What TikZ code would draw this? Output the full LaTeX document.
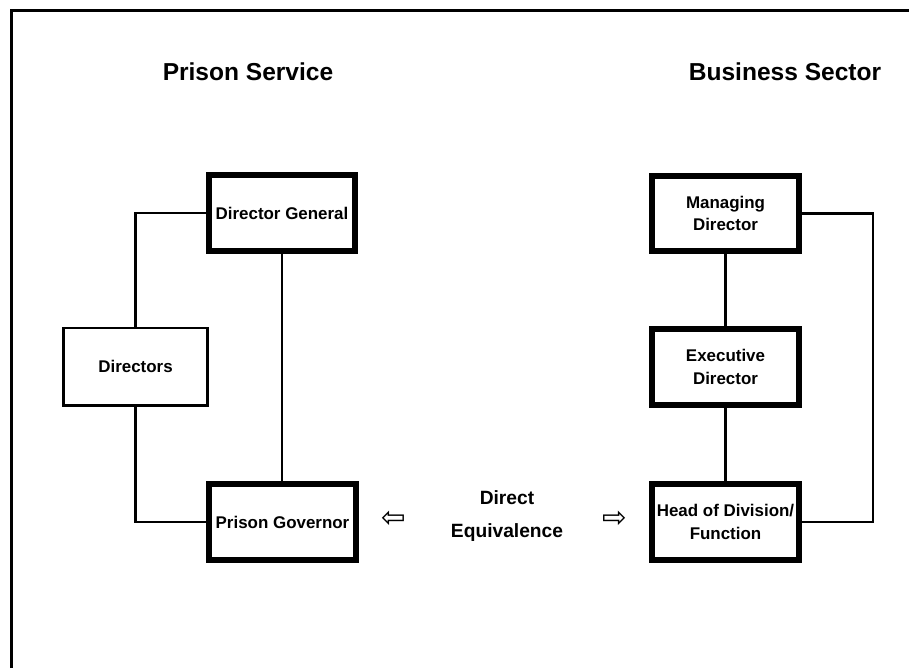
\documentclass[tikz,border=0pt]{standalone}
\usepackage{fontspec}
\setmainfont{Liberation Sans}
\newfontfamily\symfont{DejaVu Sans}
\begin{document}
\begin{tikzpicture}[x=0.75pt,y=-0.75pt,
  thickbox/.style={draw,line width=4.5pt,minimum width=110pt,minimum height=56.5pt,inner sep=0pt,align=center,
    font=\fontsize{12.7pt}{17pt}\selectfont\bfseries},
  thinbox/.style={draw,line width=2pt,minimum width=108pt,minimum height=58pt,inner sep=0pt,align=center,
    font=\fontsize{12.7pt}{17pt}\selectfont\bfseries},
  title/.style={font=\fontsize{18.4pt}{22pt}\selectfont\bfseries,inner sep=0pt},
  conn/.style={line width=2pt},
  eqtext/.style={font=\fontsize{14.4pt}{24.75pt}\selectfont\bfseries,align=center,inner sep=0pt},
  arrowsym/.style={font=\fontsize{22pt}{22pt}\selectfont\symfont,inner sep=0pt}]
\useasboundingbox (0,0) rectangle (909,668);
\draw[line width=2.25pt] (11,668) -- (11,10) -- (909,10);

\node[title] (ps) at (248,72) {Prison Service};
\node[title] (bs) at (785,72) {Business Sector};

\node[thickbox] (dg) at (282,213) {Director General};
\node[thinbox] (dirs) at (135.5,366.5) {Directors};
\node[thickbox] (pg) at (282.5,522) {Prison Governor};

\node[thickbox] (md) at (725.5,213.5) {Managing\\Director};
\node[thickbox] (ed) at (725.5,367) {Executive\\Director};
\node[thickbox] (hod) at (725.5,522) {Head of Division/\\Function};

\node[eqtext] (eq) at (507,516.5) {Direct\\Equivalence};
\node[arrowsym] (la) at (394,519) {⇦};
\node[arrowsym] (ra) at (615,519) {⇨};

\coordinate (rc) at (873,0);
\draw[conn] (dg.west) -| (dirs.north);
\draw[conn] (dirs.south) |- (pg.west);
\draw[conn] (dg.south) -- (dg.south |- pg.north);
\draw[conn] (md.south) -- (ed.north);
\draw[conn] (ed.south) -- (hod.north);
\draw[conn] (md.east) -- (md.east -| rc) |- (hod.east);
\end{tikzpicture}
\end{document}
